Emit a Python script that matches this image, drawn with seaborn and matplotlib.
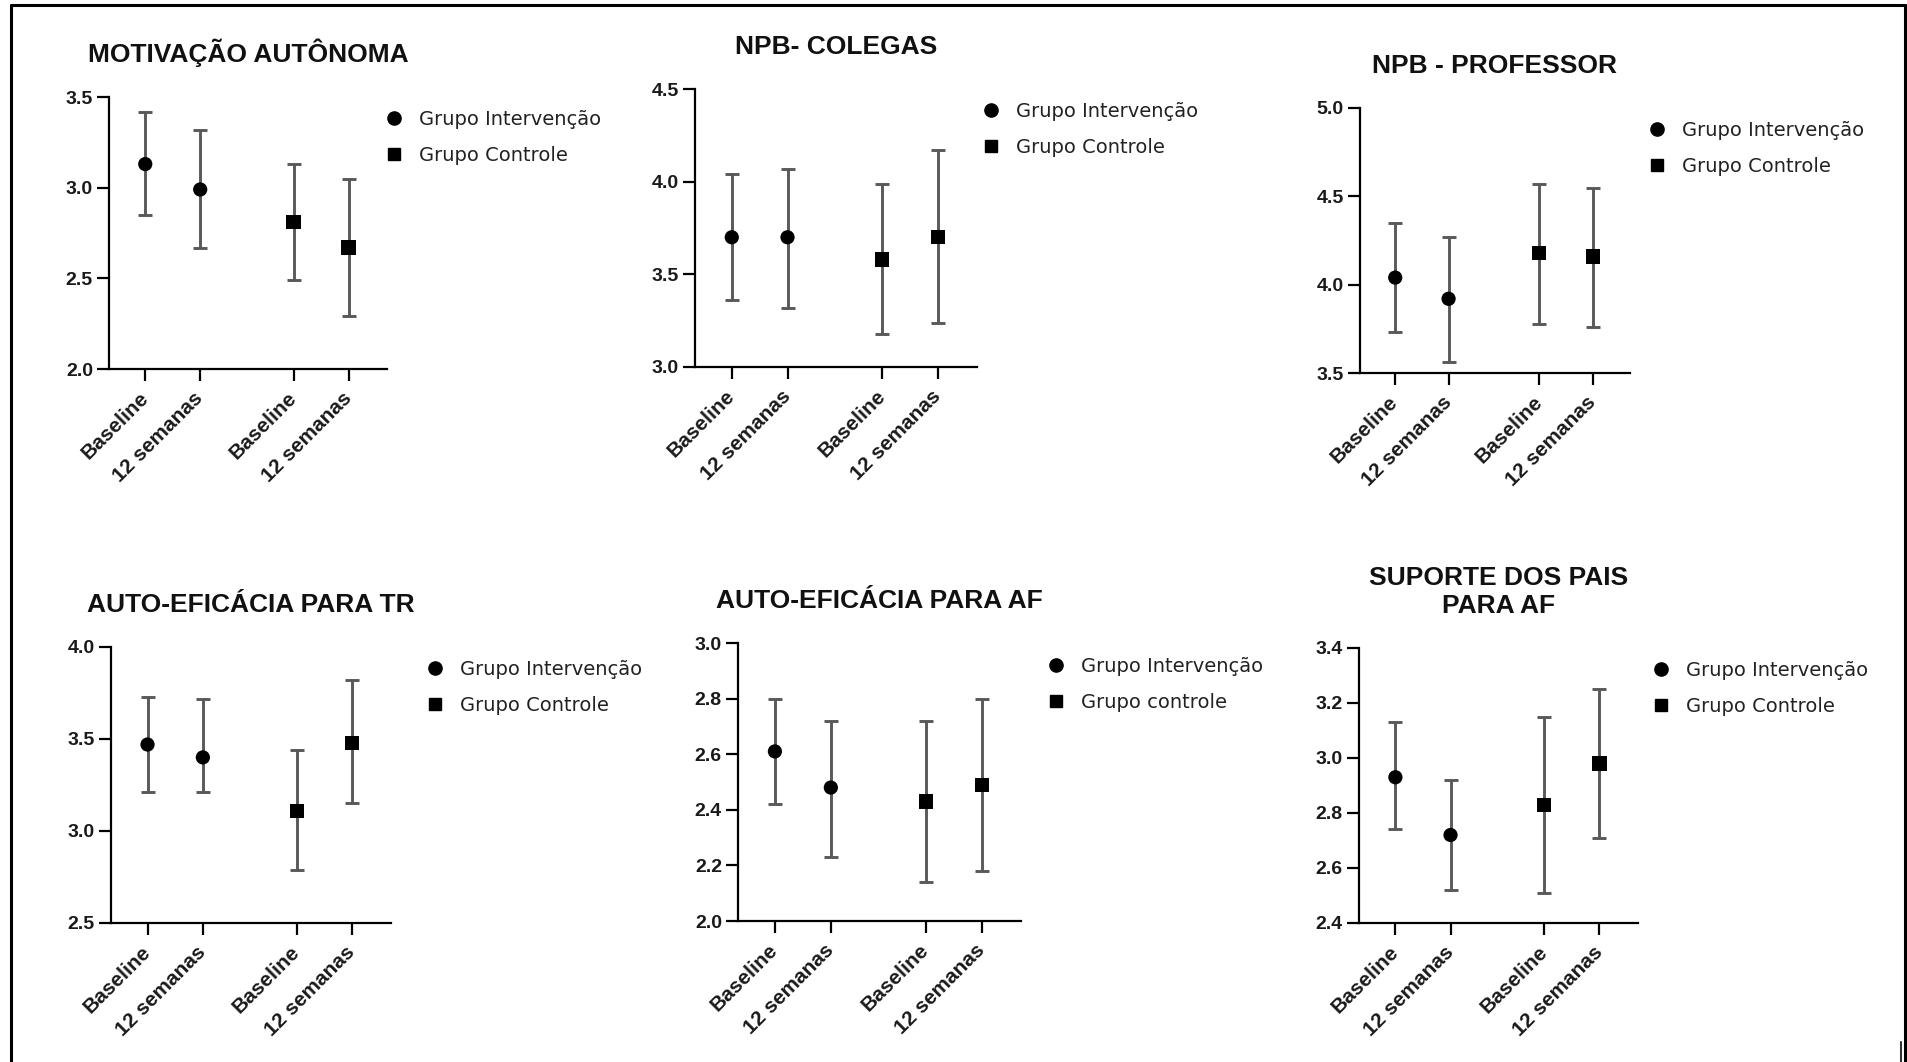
import numpy as np
import pandas as pd
import seaborn as sns
import matplotlib.pyplot as plt
from matplotlib.lines import Line2D

# ---- data ----
titles = ["MOTIVAÇÃO AUTÔNOMA", "NPB- COLEGAS", "NPB - PROFESSOR",
          "AUTO-EFICÁCIA PARA TR", "AUTO-EFICÁCIA PARA AF", "SUPORTE DOS PAIS\nPARA AF"]
periods = ["Baseline", "12 semanas", "Baseline", "12 semanas"]
group_int = "Grupo Intervenção"
group_ctrl = ["Grupo Controle", "Grupo Controle", "Grupo Controle",
              "Grupo Controle", "Grupo controle", "Grupo Controle"]

# order: intervencao baseline, intervencao 12 sem, controle baseline, controle 12 sem
means = [
    [3.13, 2.99, 2.81, 2.67],
    [3.70, 3.70, 3.58, 3.70],
    [4.04, 3.92, 4.18, 4.16],
    [3.47, 3.40, 3.11, 3.48],
    [2.61, 2.48, 2.43, 2.49],
    [2.93, 2.72, 2.83, 2.98],
]
lower = [
    [2.85, 2.67, 2.49, 2.29],
    [3.36, 3.32, 3.18, 3.24],
    [3.73, 3.56, 3.78, 3.76],
    [3.21, 3.21, 2.79, 3.15],
    [2.42, 2.23, 2.14, 2.18],
    [2.74, 2.52, 2.51, 2.71],
]
upper = [
    [3.42, 3.32, 3.13, 3.05],
    [4.04, 4.07, 3.99, 4.17],
    [4.35, 4.27, 4.57, 4.55],
    [3.73, 3.72, 3.44, 3.82],
    [2.80, 2.72, 2.72, 2.80],
    [3.13, 2.92, 3.15, 3.25],
]
y_ranges = [(2.0, 3.5), (3.0, 4.5), (3.5, 5.0), (2.5, 4.0), (2.0, 3.0), (2.4, 3.4)]
y_steps = [0.5, 0.5, 0.5, 0.5, 0.2, 0.2]

# ---- layout (pixels) ----
W, H = 1908, 1062
# left, top, right, bottom of the axis lines
boxes = [
    (109, 97, 387, 369),
    (695, 89, 977, 367),
    (1360, 108, 1630, 373),
    (111, 647, 391, 923),
    (738, 643, 1021, 921),
    (1359, 648, 1638, 923),
]
# centre of the first legend marker
legend_pos = [(394, 116), (991, 108), (1657, 127), (435, 666), (1056, 663), (1661, 667)]
gap = 0.7
x_pos = np.array([0, 1, 1 + 1 + gap, 2 + 1 + gap])

sns.set_theme(style="ticks")
plt.rcParams["font.family"] = ["Liberation Sans", "DejaVu Sans"]

fig = plt.figure(figsize=(W / 100, H / 100), dpi=100)

leg_fs = 14
leg_fs_px = leg_fs * 100 / 72
handle_len = 0.8

for i in range(6):
    l, t, r, b = boxes[i]
    ax = fig.add_axes([l / W, 1 - b / H, (r - l) / W, (b - t) / H])

    df = pd.DataFrame({
        "pos": x_pos,
        "media": means[i],
        "inf": lower[i],
        "sup": upper[i],
        "grupo": [group_int, group_int, group_ctrl[i], group_ctrl[i]],
    })

    ax.errorbar(df["pos"], df["media"],
                yerr=[df["media"] - df["inf"], df["sup"] - df["media"]],
                fmt="none", ecolor="#595959", elinewidth=2.1,
                capsize=4.8, capthick=2.1, zorder=2)
    sns.scatterplot(data=df, x="pos", y="media", style="grupo",
                    markers={group_int: "o", group_ctrl[i]: "s"},
                    color="black", s=105, edgecolor="none", linewidth=0,
                    legend=False, ax=ax, zorder=3)

    lo, hi = y_ranges[i]
    ax.set_ylim(lo, hi)
    yt = np.arange(lo, hi + 1e-6, y_steps[i])
    ax.set_yticks(yt, [f"{v:.1f}" for v in yt],
                  weight="bold", fontsize=14, color="#1a1a1a")
    ax.set_xlim(-0.66, 4.4)
    ax.set_xticks(x_pos, periods, rotation=45, ha="right", va="center",
                  rotation_mode="anchor", weight="bold", fontsize=15,
                  color="#1a1a1a")
    ax.set_xlabel("")
    ax.set_ylabel("")

    sns.despine(ax=ax)
    for s in ["left", "bottom"]:
        ax.spines[s].set_linewidth(1.6)
        ax.spines[s].set_color("black")
    ax.tick_params(axis="x", length=8.4, width=1.6, color="black", pad=10.5)
    ax.tick_params(axis="y", length=8.6, width=1.6, color="black", pad=3)

    ax.set_title(titles[i], weight="bold", fontsize=19,
                 color="#111111", pad=25, linespacing=1.2)

    handles = [
        Line2D([], [], marker="o", ls="", color="black", markersize=9.5, label=group_int),
        Line2D([], [], marker="s", ls="", color="black", markersize=9, label=group_ctrl[i]),
    ]
    px, py = legend_pos[i]
    ax_x = (px - handle_len / 2 * leg_fs_px - l) / (r - l)
    ax_y = (b - (py - 0.33 * leg_fs_px)) / (b - t)
    leg = ax.legend(handles=handles, loc="upper left", bbox_to_anchor=(ax_x, ax_y),
                    frameon=False, fontsize=leg_fs, handlelength=handle_len,
                    handletextpad=0.87, labelspacing=0.9, borderpad=0,
                    borderaxespad=0, prop={"family": "DejaVu Sans", "size": leg_fs})
    for txt in leg.get_texts():
        txt.set_color("#222222")

# outer frame of the picture
lw = 2.2
fig.add_artist(Line2D([11 / W, 11 / W], [0, 1 - 5 / H], transform=fig.transFigure,
                      color="black", lw=lw))
fig.add_artist(Line2D([11 / W, 1905 / W], [1 - 5 / H, 1 - 5 / H],
                      transform=fig.transFigure, color="black", lw=lw))
fig.add_artist(Line2D([1905 / W, 1905 / W], [0, 1 - 5 / H], transform=fig.transFigure,
                      color="black", lw=lw))
fig.add_artist(Line2D([1901 / W, 1901 / W], [0, 1 - 1042 / H], transform=fig.transFigure,
                      color="#333333", lw=1.5))

fig.savefig("out.png", dpi=100, facecolor="white")
